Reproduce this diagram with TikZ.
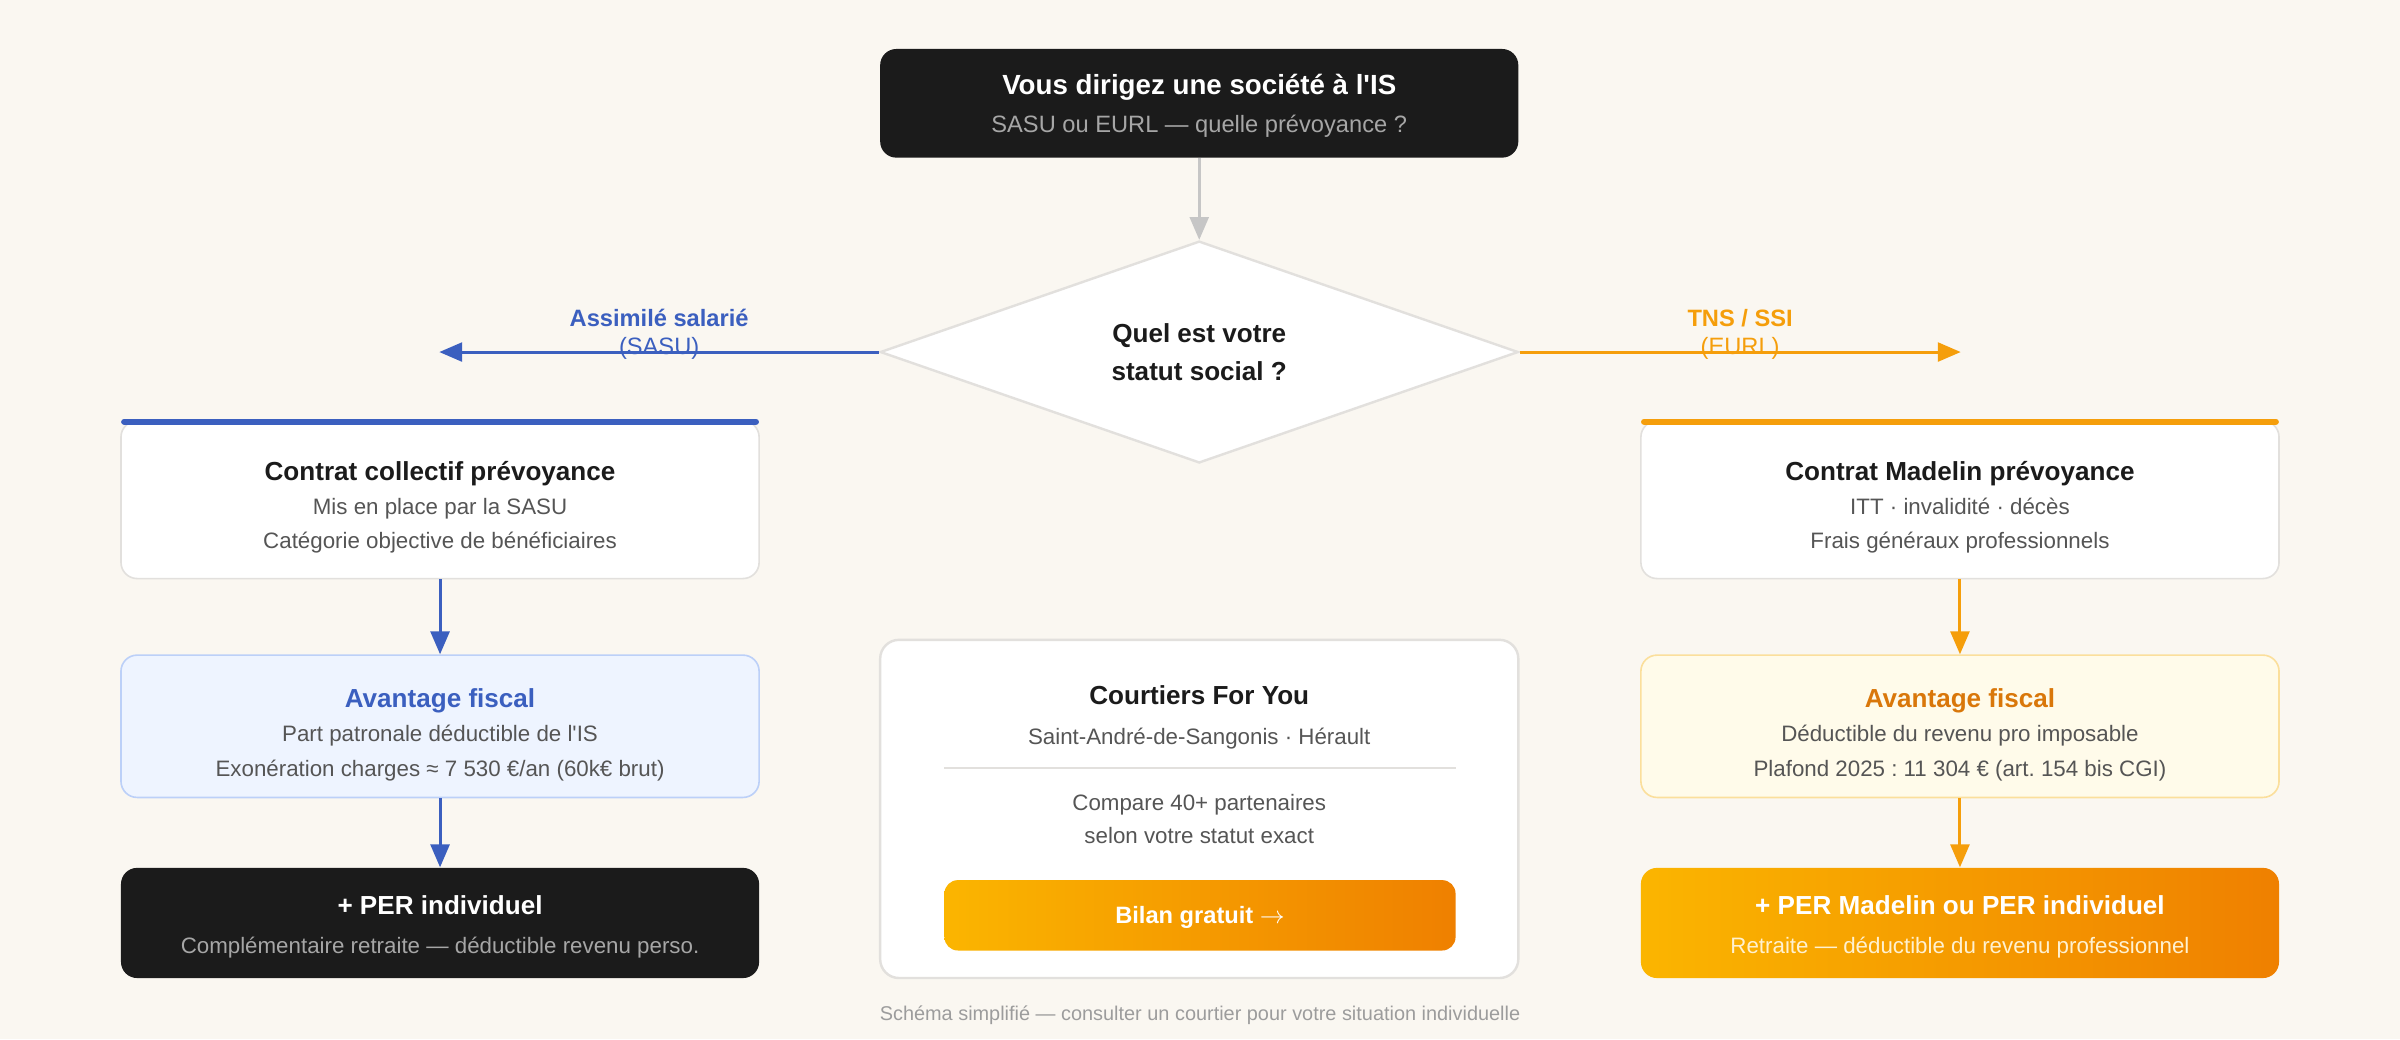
\documentclass[tikz,border=0pt]{standalone}
\usepackage{fontspec}
\setmainfont{Liberation Sans}[Ligatures=TeXOff]
\usepackage{tikz}
\usetikzlibrary{arrows.meta, positioning, shapes.geometric, calc}
\frenchspacing
\definecolor{paper}{HTML}{FAF7F1}
\definecolor{inkdark}{HTML}{1B1B1B}
\definecolor{inkgray}{HTML}{555555}
\definecolor{softgray}{HTML}{A6A6A6}
\definecolor{linegray}{HTML}{C6C6C6}
\definecolor{cardedge}{HTML}{E2E0DD}
\definecolor{sasublue}{HTML}{3B5FBF}
\definecolor{bluewash}{HTML}{EEF4FF}
\definecolor{blueedge}{HTML}{BCD0F8}
\definecolor{tnsorange}{HTML}{F59E0B}
\definecolor{amberwash}{HTML}{FFFBEA}
\definecolor{amberedge}{HTML}{FBDF9C}
\definecolor{amberink}{HTML}{D9770A}
\definecolor{goldstart}{HTML}{FBB500}
\definecolor{goldend}{HTML}{EF8000}
\definecolor{creamtext}{HTML}{FFF1D0}
\definecolor{footgray}{HTML}{9C9C9C}

\begin{document}
\begin{tikzpicture}[x=0.02cm, y=-0.02cm,
    card/.style={draw=cardedge, line width=0.6pt, fill=white, rounded corners=6pt, minimum width=8.34cm, inner sep=0pt},
    darkcard/.style={fill=inkdark, rounded corners=6pt, minimum width=8.34cm, inner sep=0pt},
    goldcard/.style={left color=goldstart, right color=goldend, rounded corners=6pt, minimum width=8.34cm, inner sep=0pt},
    decision/.style={diamond, draw=cardedge, line width=0.9pt, fill=white, minimum width=8.34cm, minimum height=2.9cm, shape aspect=2.9, inner sep=0pt, align=center, font=\fontsize{9.7}{14}\selectfont\bfseries, text=inkdark},
    txt/.style={inner sep=0pt, text depth=0pt},
    head/.style={txt, text height=7pt, font=\fontsize{9.7}{12}\selectfont\bfseries, text=inkdark},
    body/.style={txt, text height=6pt, font=\fontsize{8.3}{10}\selectfont, text=inkgray},
    tag/.style={txt, text height=6.3pt, font=\fontsize{8.8}{10}\selectfont},
    flow/.style={line width=1.1pt, -{Triangle[length=8.5pt, width=7pt]}},
  ]
    % Page background
    \useasboundingbox (0,0) rectangle (1568,679);
    \fill[paper] (0,0) rectangle (1568,679);

    % Starting question
    \node[darkcard, minimum height=1.42cm] (societe) at (783.5,67.5) {};
    \node[head, text=white, font=\fontsize{10.3}{12}\selectfont\bfseries, text height=7.4pt] (societe-t) at (783.5,55) {Vous dirigez une société à l'IS};
    \node[body, text=softgray, font=\fontsize{8.8}{10}\selectfont, text height=6.3pt] (societe-s) at (783.5,81) {SASU ou EURL — quelle prévoyance ?};

    % Decision
    \node[decision] (statut) at (783.5,230) {Quel est votre\\statut social ?};
    \draw[flow, draw=linegray] (societe) -- (statut);

    % Branch ends
    \coordinate (sasu-end) at (287,230);
    \coordinate (tns-end) at (1281,230);
    \draw[flow, sasublue] (statut.west) -- node[tag, midway, yshift=0.44cm, font=\fontsize{8.8}{10}\selectfont\bfseries] (sasu-tag) {Assimilé salarié} node[tag, midway, yshift=0.08cm] (sasu-sub) {(SASU)} (sasu-end);
    \draw[flow, tnsorange] (statut.east) -- node[tag, midway, yshift=0.44cm, font=\fontsize{8.8}{10}\selectfont\bfseries] (tns-tag) {TNS / SSI} node[tag, midway, yshift=0.08cm] (tns-sub) {(EURL)} (tns-end);

    % Left column (SASU)
    \node[card, minimum height=2.06cm] (lcontrat) at (287.5,326.5) {};
    \draw[sasublue, line width=2.3pt, line cap=round] ([xshift=1.5pt, yshift=-0.6pt]lcontrat.north west) -- ([xshift=-1.5pt, yshift=-0.6pt]lcontrat.north east);
    \node[head] (lcontrat-t) at (287.5,308) {Contrat collectif prévoyance};
    \node[body] (lcontrat-a) at (287.5,331) {Mis en place par la SASU};
    \node[body] (lcontrat-b) at (287.5,353) {Catégorie objective de bénéficiaires};

    \node[card, fill=bluewash, draw=blueedge, minimum height=1.86cm] (lfiscal) at (287.5,474.5) {};
    \node[head, text=sasublue] (lfiscal-t) at (287.5,456) {Avantage fiscal};
    \node[body] (lfiscal-a) at (287.5,479) {Part patronale déductible de l'IS};
    \node[body] (lfiscal-b) at (287.5,502) {Exonération charges ≈ 7 530 €/an (60k€ brut)};

    \node[darkcard, minimum height=1.44cm] (lper) at (287.5,603) {};
    \node[head, text=white] (lper-t) at (287.5,591) {+ PER individuel};
    \node[body, text=softgray] (lper-a) at (287.5,618) {Complémentaire retraite — déductible revenu perso.};

    \draw[flow, sasublue] (lcontrat) -- (lfiscal);
    \draw[flow, sasublue] (lfiscal) -- (lper);

    % Right column (TNS)
    \node[card, minimum height=2.06cm] (rcontrat) at (1280.5,326.5) {};
    \draw[tnsorange, line width=2.3pt, line cap=round] ([xshift=1.5pt, yshift=-0.6pt]rcontrat.north west) -- ([xshift=-1.5pt, yshift=-0.6pt]rcontrat.north east);
    \node[head] (rcontrat-t) at (1280.5,308) {Contrat Madelin prévoyance};
    \node[body] (rcontrat-a) at (1280.5,331) {ITT · invalidité · décès};
    \node[body] (rcontrat-b) at (1280.5,353) {Frais généraux professionnels};

    \node[card, fill=amberwash, draw=amberedge, minimum height=1.86cm] (rfiscal) at (1280.5,474.5) {};
    \node[head, text=amberink] (rfiscal-t) at (1280.5,456) {Avantage fiscal};
    \node[body] (rfiscal-a) at (1280.5,479) {Déductible du revenu pro imposable};
    \node[body] (rfiscal-b) at (1280.5,502) {Plafond 2025 : 11 304 € (art. 154 bis CGI)};

    \node[goldcard, minimum height=1.44cm] (rper) at (1280.5,603) {};
    \node[head, text=white] (rper-t) at (1280.5,591) {+ PER Madelin ou PER individuel};
    \node[body, text=creamtext] (rper-a) at (1280.5,618) {Retraite — déductible du revenu professionnel};

    \draw[flow, tnsorange] (rcontrat) -- (rfiscal);
    \draw[flow, tnsorange] (rfiscal) -- (rper);

    % Broker card
    \node[card, line width=0.9pt, rounded corners=7pt, minimum height=4.42cm] (courtier) at (783.5,528.5) {};
    \node[head] (courtier-t) at (783.5,454) {Courtiers For You};
    \node[body] (courtier-a) at (783.5,481) {Saint-André-de-Sangonis · Hérault};
    \draw[cardedge, line width=0.7pt] (617,502) -- (951,502);
    \node[body] (courtier-b) at (783.5,524) {Compare 40+ partenaires};
    \node[body] (courtier-c) at (783.5,546) {selon votre statut exact};
    \node[goldcard, rounded corners=5pt, minimum width=6.68cm, minimum height=0.92cm, text=white, font=\fontsize{8.8}{10}\selectfont\bfseries, text height=6.3pt, text depth=0pt] (bilan) at (784,598) {Bilan gratuit $\rightarrow$};

    % Footnote
    \node[txt, text height=5.3pt, font=\fontsize{7.4}{9}\selectfont, text=footgray] (note) at (784,662) {Schéma simplifié — consulter un courtier pour votre situation individuelle};
\end{tikzpicture}
\end{document}
